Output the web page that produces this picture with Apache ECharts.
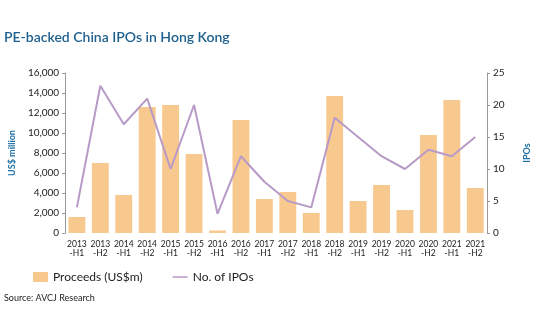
<!DOCTYPE html>
<html><head><meta charset="utf-8">
<script src="https://cdn.jsdelivr.net/npm/echarts@6/dist/echarts.min.js"></script>
<style>html,body{margin:0;padding:0;background:#fff}#c{width:540px;height:334px}</style>
</head><body><div id="c"></div>
<script>
const categories = ['2013\n-H1','2013\n-H2','2014\n-H1','2014\n-H2','2015\n-H1','2015\n-H2','2016\n-H1','2016\n-H2','2017\n-H1','2017\n-H2','2018\n-H1','2018\n-H2','2019\n-H1','2019\n-H2','2020\n-H1','2020\n-H2','2021\n-H1','2021\n-H2'];
const proceeds = [1600, 7000, 3800, 12600, 12800, 7900, 250, 11300, 3400, 4100, 2000, 13700, 3200, 4800, 2300, 9800, 13300, 4500];
const ipos = [4, 23, 17, 21, 10, 20, 3, 12, 8, 5, 4, 18, 15, 12, 10, 13, 12, 15];

const FONT = 'Lato, "Open Sans", sans-serif';
const chart = echarts.init(document.getElementById('c'));
chart.setOption({
  animation: false,
  backgroundColor: '#fff',
  textStyle: { fontFamily: FONT },
  graphic: [
    { type: 'text', left: 4, top: 30, style: { text: 'PE-backed China IPOs in Hong Kong', fill: '#1d5f8e', font: '600 14px ' + FONT } },
    { type: 'text', left: 4, top: 294, style: { text: 'Source: AVCJ Research', fill: '#222', font: '9px ' + FONT } }
  ],
  legend: {
    left: 28, top: 266, itemGap: 30, itemWidth: 15, itemHeight: 10,
    textStyle: { fontSize: 12, color: '#222', fontFamily: FONT },
    data: [
      { name: 'Proceeds (US$m)', icon: 'rect' },
      { name: 'No. of IPOs', icon: 'path://M0,4 L20,4 L20,6 L0,6 Z' }
    ]
  },
  grid: { left: 58, right: 40, top: 73, bottom: 101 },
  xAxis: {
    type: 'category', data: categories,
    axisLine: { show: false }, axisTick: { show: false },
    axisLabel: { fontSize: 8.5, color: '#222', lineHeight: 9, margin: 7, interval: 0 }
  },
  yAxis: [
    {
      type: 'value', min: 0, max: 16000, interval: 2000,
      name: 'US$ million', nameLocation: 'middle', nameGap: 46, nameRotate: 90,
      nameTextStyle: { color: '#1d6fa5', fontSize: 9, fontWeight: 'bold' },
      axisLine: { show: true, lineStyle: { color: '#999' } },
      axisTick: { show: true, length: 3, lineStyle: { color: '#999' } },
      splitLine: { show: false },
      axisLabel: { fontSize: 10, color: '#222', margin: 6, formatter: v => v.toLocaleString('en-US') }
    },
    {
      type: 'value', min: 0, max: 25, interval: 5,
      name: 'IPOs', nameLocation: 'middle', nameGap: 36, nameRotate: 90,
      nameTextStyle: { color: '#1d6fa5', fontSize: 9, fontWeight: 'bold' },
      axisLine: { show: true, lineStyle: { color: '#999' } },
      axisTick: { show: true, length: 3, lineStyle: { color: '#999' } },
      splitLine: { show: false },
      axisLabel: { fontSize: 10, color: '#222', margin: 6 }
    }
  ],
  series: [
    { name: 'Proceeds (US$m)', type: 'bar', data: proceeds, barCategoryGap: '28%', itemStyle: { color: '#f8c98f' } },
    { name: 'No. of IPOs', type: 'line', yAxisIndex: 1, data: ipos, symbol: 'none', lineStyle: { color: '#b89ac7', width: 2 }, itemStyle: { color: '#b89ac7' } }
  ]
});
</script></body></html>
